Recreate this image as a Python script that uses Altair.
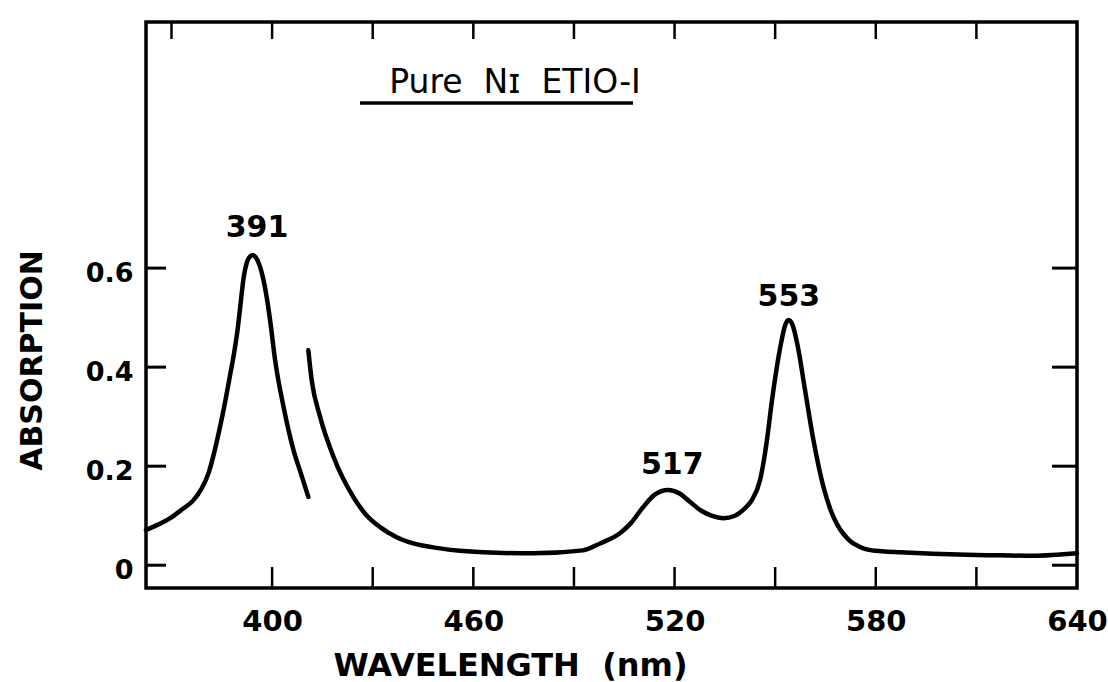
import altair as alt
import pandas as pd

# ---- data ----
wl_seg1 = [362.4, 366.0, 369.6, 373.0, 376.5, 379.0, 381.0, 383.0, 384.5, 386.0, 387.5,
           388.7, 389.7, 390.5, 391.5, 392.5, 393.5, 394.3, 395.3, 396.3, 397.3, 398.3,
           399.4, 400.9, 403.4, 406.4, 408.6, 410.8]
ab_seg1 = [0.071, 0.082, 0.095, 0.112, 0.131, 0.155, 0.185, 0.235, 0.280, 0.330, 0.385,
           0.430, 0.475, 0.522, 0.580, 0.612, 0.624, 0.626, 0.620, 0.605, 0.580, 0.545,
           0.495, 0.414, 0.320, 0.232, 0.185, 0.138]

wl_seg2 = [410.8, 411.8, 414.3, 418.3, 424.2, 428.0, 432.2, 437.0, 442.1, 450.1, 456.0,
           462.9, 477.8, 492.7, 497.8, 503.8, 507.0, 510.6, 514.0, 518.0, 521.5,
           524.6, 528.0, 531.0, 534.5, 538.0, 541.0, 543.0, 545.5, 547.5, 549.0, 550.5,
           551.8, 553.0, 554.0, 555.2, 556.8, 558.9, 561.4, 564.4, 566.5, 568.5, 570.5,
           572.5, 575.0, 577.3, 582.0, 587.2, 597.0, 607.2, 617.0, 626.9, 640.0]
ab_seg2 = [0.434, 0.374, 0.300, 0.219, 0.138, 0.102, 0.077, 0.057, 0.044, 0.034, 0.029,
           0.026, 0.024, 0.030, 0.044, 0.065, 0.085, 0.117, 0.142, 0.152, 0.145,
           0.128, 0.110, 0.100, 0.095, 0.100, 0.115, 0.131, 0.172, 0.250, 0.330, 0.400,
           0.450, 0.485, 0.495, 0.485, 0.440, 0.354, 0.253, 0.158, 0.112, 0.082, 0.062,
           0.048, 0.038, 0.032, 0.028, 0.026, 0.023, 0.021, 0.020, 0.019, 0.024]

x_label_values = [400, 460, 520, 580, 640]
x_top_ticks = [370, 400, 430, 460, 490, 520, 550, 580, 610]
x_bottom_ticks = [400, 430, 460, 490, 520, 550, 580, 610]
y_tick_values = [0, 0.2, 0.4, 0.6]

peak_labels = ["391", "517", "553"]
peak_label_wl = [395.5, 519.3, 554.1]
peak_label_ab = [0.681, 0.202, 0.541]

chart_title = "Pure\u00a0\u00a0N\u026a\u00a0\u00a0ETIO-I"
x_title = "WAVELENGTH\u00a0\u00a0(nm)"
y_title = "ABSORPTION"

X_DOMAIN = [362.4, 640]
Y_DOMAIN = [-0.046, 1.097]

W, H = 931, 566
FONT = "DejaVu Sans"

# ---- tables ----
curve = pd.concat([
    pd.DataFrame({"wl": wl_seg1, "ab": ab_seg1, "seg": "a"}),
    pd.DataFrame({"wl": wl_seg2, "ab": ab_seg2, "seg": "b"}),
])
peaks = pd.DataFrame({"wl": peak_label_wl, "ab": peak_label_ab, "txt": peak_labels})
ytk = pd.DataFrame({"ab": y_tick_values})
xtop = pd.DataFrame({"wl": x_top_ticks})
xbot = pd.DataFrame({"wl": x_bottom_ticks})

xs = alt.Scale(domain=X_DOMAIN, nice=False, zero=False)
ys = alt.Scale(domain=Y_DOMAIN, nice=False, zero=False)

x_axis = alt.Axis(values=x_label_values, ticks=False, domain=False, grid=False,
                  labelFont=FONT, labelFontSize=29, labelFontWeight="bold",
                  labelColor="black", labelPadding=19,
                  title=x_title, titleFont=FONT, titleFontSize=32, titleFontWeight="bold",
                  titleColor="black", titleX=364, titleY=77, titleAlign="center",
                  titleBaseline="middle", labelFlush=False)
y_axis = alt.Axis(values=y_tick_values, ticks=False, domain=False, grid=False,
                  labelFont=FONT, labelFontSize=27, labelFontWeight="bold",
                  labelColor="black", labelPadding=13, labelOffset=5,
                  labelExpr="datum.value == 0 ? '0' : format(datum.value, '.1f')",
                  title=y_title, titleFont=FONT, titleFontSize=30, titleFontWeight="bold",
                  titleColor="black", titleAngle=270, titleX=-114, titleY=338,
                  titleAlign="center", titleBaseline="middle", labelFlush=False)

line = alt.Chart(curve).mark_line(color="black", strokeWidth=4.5, interpolate="monotone",
                                  strokeCap="round", strokeJoin="round").encode(
    x=alt.X("wl:Q", scale=xs, axis=x_axis),
    y=alt.Y("ab:Q", scale=ys, axis=y_axis),
    detail="seg:N",
)

left_ticks = alt.Chart(ytk).mark_rule(color="black", strokeWidth=3).encode(
    y=alt.Y("ab:Q", scale=ys), x=alt.value(0), x2=alt.value(20))
right_ticks = alt.Chart(ytk).mark_rule(color="black", strokeWidth=3).encode(
    y=alt.Y("ab:Q", scale=ys), x=alt.value(W - 25), x2=alt.value(W))
top_ticks = alt.Chart(xtop).mark_rule(color="black", strokeWidth=2.5).encode(
    x=alt.X("wl:Q", scale=xs), y=alt.value(0), y2=alt.value(17))
bottom_ticks = alt.Chart(xbot).mark_rule(color="black", strokeWidth=2.5).encode(
    x=alt.X("wl:Q", scale=xs), y=alt.value(H - 21), y2=alt.value(H))

peak_text = alt.Chart(peaks).mark_text(font=FONT, fontSize=30, fontWeight="bold",
                                       color="black", align="center",
                                       baseline="middle").encode(
    x=alt.X("wl:Q", scale=xs), y=alt.Y("ab:Q", scale=ys), text="txt:N")

title_text = alt.Chart(pd.DataFrame({"t": [chart_title]})).mark_text(
    font=FONT, fontSize=33, color="black", align="center", baseline="alphabetic").encode(
    x=alt.value(369), y=alt.value(71), text="t:N")
underline = alt.Chart(pd.DataFrame({"t": [chart_title]})).mark_rule(
    color="black", strokeWidth=3.5).encode(x=alt.value(214), x2=alt.value(487), y=alt.value(81))

chart = alt.layer(line, left_ticks, right_ticks, top_ticks, bottom_ticks, peak_text,
                  title_text, underline).properties(
    width=W, height=H,
    background="white",
    autosize=alt.AutoSizeParams(type="none"),
    padding={"left": 146, "top": 22, "right": 31, "bottom": 94},
).configure_view(stroke="black", strokeWidth=3.5)

chart.save("out.html", embed_options={"renderer": "svg", "actions": False})
